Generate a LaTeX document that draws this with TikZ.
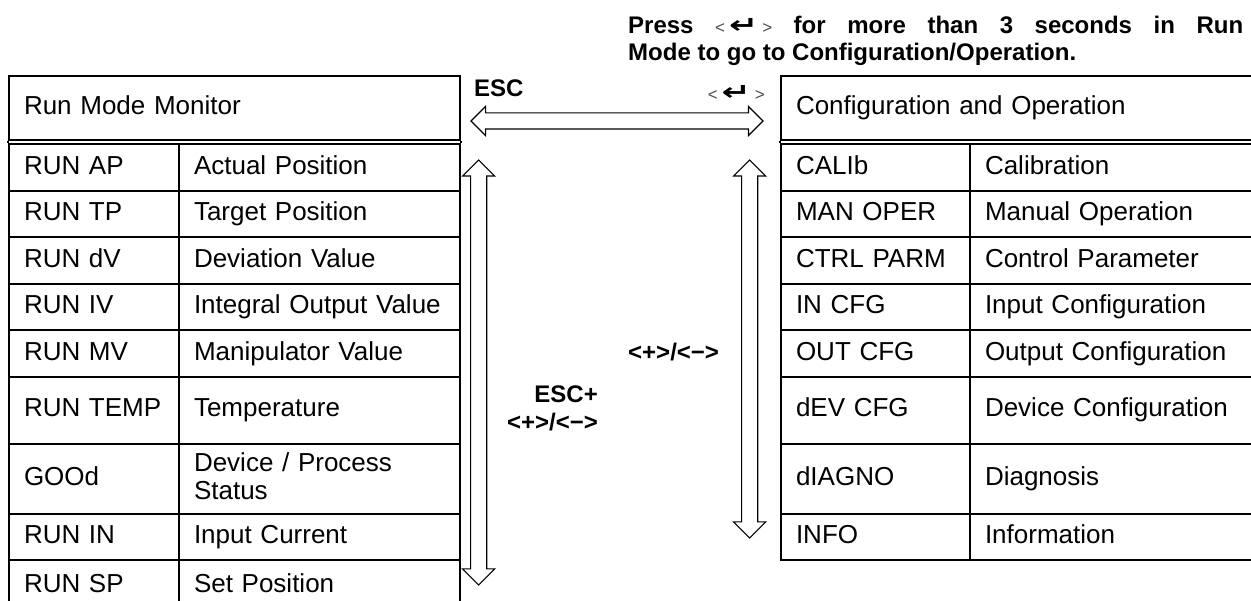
\documentclass[tikz,border=0pt]{standalone}
\usepackage{fontspec}
\usepackage{graphicx}
\setmainfont{Liberation Sans}
\newfontfamily\arrowsym{DejaVu Sans}
\usetikzlibrary{positioning,shapes.arrows}
\newcommand{\enterkey}[1]{{\fontsize{17}{20}\selectfont\mdseries\color{black!70}<}\,\scalebox{1.45}[1]{\arrowsym\bfseries\fontsize{#1}{#1}\selectfont ↵}\,{\fontsize{17}{20}\selectfont\mdseries\color{black!70}>}}
\tikzset{
  cell/.style={draw,line width=2pt,anchor=north west,align=left,
    inner xsep=15pt,inner ysep=2pt,text height=19pt,text depth=6pt,
    font=\fontsize{26}{28}\selectfont},
  tblline/.style={line width=2pt},
  keylabel/.style={font=\fontsize{24}{28}\selectfont\bfseries,inner sep=0pt},
  blockarrow/.style={double arrow,draw,line width=1.1pt,fill=white,
    inner xsep=0pt,inner ysep=7.5pt,text height=0pt,text depth=0pt,
    double arrow head extend=6.5pt},
}

\begin{document}
\begin{tikzpicture}[x=1pt,y=-1pt]
  \useasboundingbox (0,0) rectangle (1251,601);
  \clip (0,0) rectangle (1251,601);
  % run mode table
  \node[cell,text width=421pt,minimum height=64.5pt] (mon) at (8,75) {Run Mode Monitor};
  \node[cell,text width=140pt,minimum height=46.5pt] (ap) at (8,143.5) {RUN AP};
  \node[cell,text width=251pt,minimum height=46.5pt] (apv) at (178,143.5) {Actual Position};
  \node[cell,text width=140pt,minimum height=46.5pt] (tp) at (8,190) {RUN TP};
  \node[cell,text width=251pt,minimum height=46.5pt] (tpv) at (178,190) {Target Position};
  \node[cell,text width=140pt,minimum height=46.5pt] (dv) at (8,236.5) {RUN dV};
  \node[cell,text width=251pt,minimum height=46.5pt] (dvv) at (178,236.5) {Deviation Value};
  \node[cell,text width=140pt,minimum height=46.5pt] (iv) at (8,283) {RUN IV};
  \node[cell,text width=251pt,minimum height=46.5pt] (ivv) at (178,283) {Integral Output Value};
  \node[cell,text width=140pt,minimum height=46.5pt] (mv) at (8,329.5) {RUN MV};
  \node[cell,text width=251pt,minimum height=46.5pt] (mvv) at (178,329.5) {Manipulator Value};
  \node[cell,text width=140pt,minimum height=67pt] (temp) at (8,376) {RUN TEMP};
  \node[cell,text width=251pt,minimum height=67pt] (tempv) at (178,376) {Temperature};
  \node[cell,text width=140pt,minimum height=70pt] (good) at (8,443) {GOOd};
  \node[cell,text width=251pt,minimum height=70pt,text depth=34pt] (goodv) at (178,443) {Device / Process\\Status};
  \node[cell,text width=140pt,minimum height=46pt] (in) at (8,513) {RUN IN};
  \node[cell,text width=251pt,minimum height=46pt] (inv) at (178,513) {Input Current};
  \node[cell,text width=140pt,minimum height=51pt] (sp) at (8,559) {RUN SP};
  \node[cell,text width=251pt,minimum height=51pt] (spv) at (178,559) {Set Position};
  \draw[tblline] (mon.south west) -- (ap.north west);
  \draw[tblline] (mon.south east) -- (apv.north east);
  % configuration table
  \node[cell,text width=450pt,minimum height=64.5pt] (cfg) at (780,75) {Configuration and Operation};
  \node[cell,text width=159pt,minimum height=46.5pt] (cal) at (780,143.5) {CALIb};
  \node[cell,text width=261pt,minimum height=46.5pt] (calv) at (969,143.5) {Calibration};
  \node[cell,text width=159pt,minimum height=46.5pt] (man) at (780,190) {MAN OPER};
  \node[cell,text width=261pt,minimum height=46.5pt] (manv) at (969,190) {Manual Operation};
  \node[cell,text width=159pt,minimum height=46.5pt] (ctrl) at (780,236.5) {CTRL PARM};
  \node[cell,text width=261pt,minimum height=46.5pt] (ctrlv) at (969,236.5) {Control Parameter};
  \node[cell,text width=159pt,minimum height=46.5pt] (incfg) at (780,283) {IN CFG};
  \node[cell,text width=261pt,minimum height=46.5pt] (incfgv) at (969,283) {Input Configuration};
  \node[cell,text width=159pt,minimum height=46.5pt] (outcfg) at (780,329.5) {OUT CFG};
  \node[cell,text width=261pt,minimum height=46.5pt] (outcfgv) at (969,329.5) {Output Configuration};
  \node[cell,text width=159pt,minimum height=67pt] (dev) at (780,376) {dEV CFG};
  \node[cell,text width=261pt,minimum height=67pt] (devv) at (969,376) {Device Configuration};
  \node[cell,text width=159pt,minimum height=70pt] (diag) at (780,443) {dIAGNO};
  \node[cell,text width=261pt,minimum height=70pt] (diagv) at (969,443) {Diagnosis};
  \node[cell,text width=159pt,minimum height=46pt] (info) at (780,513) {INFO};
  \node[cell,text width=261pt,minimum height=46pt] (infov) at (969,513) {Information};
  \draw[tblline] (cfg.south west) -- (cal.north west);
  \draw[tblline] (cfg.south east) -- (calv.north east);
  % block arrows
  \node[blockarrow,minimum height=292pt] (escarrow) at (617,121) {};
  \node[blockarrow,rotate=90,minimum height=425pt,double arrow head extend=8pt] (runarrow) at (478.7,372.5) {};
  \node[blockarrow,rotate=90,minimum height=378pt,double arrow head extend=8pt] (cfgarrow) at (749.7,349) {};
  % labels
  \node[keylabel,anchor=north west,text width=615pt,align=justify,font=\fontsize{24}{27}\selectfont\bfseries] (press) at (628,16)
    {Press \enterkey{24} for more than 3 seconds in Run\linebreak Mode to go to Configuration/Operation.};
  \node[keylabel,anchor=west] (esc) at (474,88) {ESC};
  \node[keylabel,anchor=east] (enter) at (765,93) {\enterkey{24}};
  \node[keylabel,anchor=east,align=right] (escpm) at (598,408) {ESC+\\<+>/<−>};
  \node[keylabel,anchor=west] (pm) at (628,352) {<+>/<−>};
\end{tikzpicture}
\end{document}
